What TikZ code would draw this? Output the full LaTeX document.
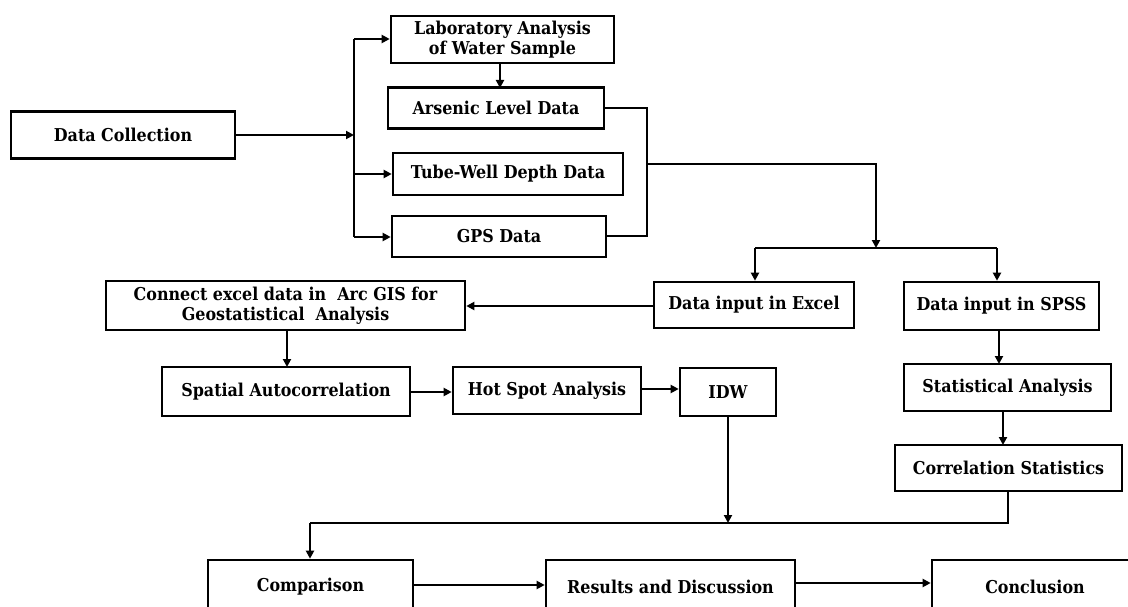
\documentclass[tikz,border=0pt]{standalone}
\usepackage{fontspec}
\setmainfont{DejaVu Serif Condensed}
\usetikzlibrary{arrows.meta}
\begin{document}
\begin{tikzpicture}[x=1pt,y=-1pt,
  box/.style={draw=black, line width=2.6pt, fill=white, inner sep=0pt, align=center,
    font=\fontsize{17.7}{20.5}\selectfont\bfseries},
  conn/.style={draw=black, line width=2.3pt},
  arr/.style={conn, -{Triangle[length=8pt,width=8pt]}}]
\useasboundingbox (0,0) rectangle (1128,607);
\clip (0,0) rectangle (1128,607);
\fill[white] (0,0) rectangle (1128,607);
% nodes
\node[box, minimum width=224pt, minimum height=47pt] (dc) at (123,135) {Data Collection};
\node[box, minimum width=223pt, minimum height=47pt] (lab) at (502.5,39.5) {Laboratory Analysis\\of Water Sample};
\node[box, minimum width=216pt, minimum height=41pt] (ars) at (496,108) {Arsenic Level Data};
\node[box, minimum width=230pt, minimum height=42pt] (tube) at (508,174) {Tube-Well Depth Data};
\node[box, minimum width=214pt, minimum height=41pt] (gps) at (499,236.5) {GPS Data};
\node[box, minimum width=200pt, minimum height=46pt] (excel) at (754,305) {Data input in Excel};
\node[box, minimum width=195pt, minimum height=48pt] (spss) at (1001.5,306) {Data input in SPSS};
\node[box, minimum width=359pt, minimum height=49pt] (arc) at (285.5,305.5) {Connect excel data in \ Arc GIS for\\Geostatistical \ Analysis};
\node[box, minimum width=248pt, minimum height=49pt] (spat) at (286,391.5) {Spatial Autocorrelation};
\node[box, minimum width=188pt, minimum height=47pt] (hot) at (547,390.5) {Hot Spot Analysis};
\node[box, minimum width=96pt, minimum height=48pt] (idw) at (728,392) {IDW};
\node[box, minimum width=207pt, minimum height=47pt] (stat) at (1007.5,387.5) {Statistical Analysis};
\node[box, minimum width=227pt, minimum height=46pt] (corr) at (1008.5,468) {Correlation Statistics};
\node[box, minimum width=205pt, minimum height=54pt] (comp) at (310.5,587) {Comparison};
\node[box, minimum width=249pt, minimum height=54pt] (res) at (670.5,587) {Results and Discussion};
\node[box, minimum width=206pt, minimum height=54pt] (conc) at (1035,587) {Conclusion};
% coordinates
\coordinate (bTop) at (354,39);
\coordinate (bMid) at (354,135);
\coordinate (bTube) at (354,174);
\coordinate (bBot) at (354,237);
\coordinate (rTop) at (647,108);
\coordinate (rBot) at (647,236);
\coordinate (rMid) at (647,164);
\coordinate (jTop) at (876,164);
\coordinate (jBot) at (876,248);
\coordinate (sL) at (755,248);
\coordinate (sR) at (997,248);
\coordinate (iBot) at (728,523);
\coordinate (cBot) at (1008,523);
\coordinate (cL) at (310,523);
% connectors
\draw[arr] (dc.east) -- (bMid);
\draw[conn] (bTop) -- (bBot);
\draw[arr] (bTop) -- (lab.west |- bTop);
\draw[arr] (bTube) -- (tube.west |- bTube);
\draw[arr] (bBot) -- (gps.west |- bBot);
\draw[arr] (500,63) -- (500,88);
\draw[conn] (ars.east |- rTop) -- (rTop) -- (rBot) -- (gps.east |- rBot);
\draw[arr] (rMid) -- (jTop) -- (jBot);
\draw[conn] (sL) -- (sR);
\draw[arr] (sL) -- (sL |- excel.north);
\draw[arr] (sR) -- (sR |- spss.north);
\draw[arr] (excel.west |- 0,306) -- (arc.east |- 0,306);
\draw[arr] (287,330) -- (287,367);
\draw[arr] (spat.east |- 0,392) -- (hot.west |- 0,392);
\draw[arr] (hot.east |- 0,389) -- (idw.west |- 0,389);
\draw[arr] (idw.south) -- (iBot);
\draw[arr] (999,330) -- (999,364);
\draw[arr] (1003,411) -- (1003,445);
\draw[conn] (corr.south -| cBot) -- (cBot) -- (cL);
\draw[arr] (cL) -- (cL |- comp.north);
\draw[arr] (comp.east |- 0,585) -- (res.west |- 0,585);
\draw[arr] (res.east |- 0,583) -- (conc.west |- 0,583);
\end{tikzpicture}
\end{document}
